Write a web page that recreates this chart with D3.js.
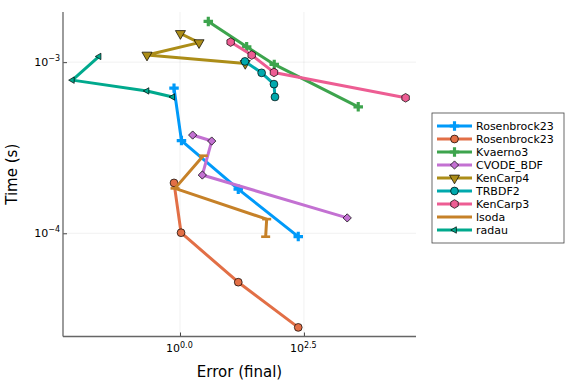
<!DOCTYPE html>
<html lang="en">

<head>
    <meta charset="UTF-8">
    <title>work precision</title>
    <script src="https://cdn.jsdelivr.net/npm/d3@7"></script>
    <style>
        body {
            margin: 0;
            background: #fff;
        }

        text {
            font-family: "DejaVu Sans", sans-serif;
            fill: #000;
        }

        .grid line {
            stroke: #000;
            stroke-opacity: 0.1;
            stroke-width: 0.6px;
        }

        .series path.line {
            fill: none;
            stroke-width: 3px;
            stroke-linejoin: round;
        }
    </style>
</head>

<body>
    <div id="chart"></div>
</body>

<script>
    // 各 solver 的誤差 / 時間
    const seriesNames = ["Rosenbrock23", "Rosenbrock23", "Kvaerno3", "CVODE_BDF", "KenCarp4", "TRBDF2", "KenCarp3", "lsoda", "radau"];
    const seriesColors = ["#009AF9", "#E26F46", "#3DA44D", "#C371D2", "#AC8D18", "#00A9AD", "#ED5D93", "#C68128", "#00A98D"];
    const seriesMarkers = ["cross", "circle", "cross", "diamond", "dtriangle", "circle", "hexagon", "hline", "ltriangle"];

    const rosenbrock23aErr = [0.757, 1.07, 14.96, 242.7];
    const rosenbrock23aTime = [7.05e-4, 3.48e-4, 1.81e-4, 9.57e-5];
    const rosenbrock23bErr = [0.757, 1.05, 14.96, 242.7];
    const rosenbrock23bTime = [1.97e-4, 1.008e-4, 5.18e-5, 2.82e-5];
    const kvaerno3Err = [3.72, 22.1, 79.6, 3935];
    const kvaerno3Time = [1.73e-3, 1.23e-3, 9.7e-4, 5.48e-4];
    const cvodeBdfErr = [1.80, 4.36, 2.82, 2360];
    const cvodeBdfTime = [3.75e-4, 3.46e-4, 2.19e-4, 1.23e-4];
    const kenCarp4Err = [1.02, 2.42, 0.216, 20.7];
    const kenCarp4Time = [1.47e-3, 1.30e-3, 1.10e-3, 9.83e-4];
    const trbdf2Err = [20.4, 44.3, 78.5, 82.3];
    const trbdf2Time = [1.01e-3, 8.66e-4, 7.44e-4, 6.26e-4];
    const kenCarp3Err = [10.5, 27.9, 78.5, 35500];
    const kenCarp3Time = [1.31e-3, 1.10e-3, 8.71e-4, 6.19e-4];
    const lsodaErr = [2.95, 0.793, 56.0, 53.4];
    const lsodaTime = [2.84e-4, 1.83e-4, 1.21e-4, 9.55e-5];
    const radauErr = [0.0233, 0.00674, 0.216, 0.713];
    const radauTime = [1.08e-3, 7.85e-4, 6.79e-4, 6.26e-4];

    const xTickValues = [1, Math.pow(10, 2.5)];
    const xTickExps = ["0.0", "2.5"];
    const yTickValues = [1e-3, 1e-4];
    const yTickExps = ["\u22123", "\u22124"];

    let draw = () => {
        let errs = [rosenbrock23aErr, rosenbrock23bErr, kvaerno3Err, cvodeBdfErr, kenCarp4Err, trbdf2Err, kenCarp3Err, lsodaErr, radauErr];
        let times = [rosenbrock23aTime, rosenbrock23bTime, kvaerno3Time, cvodeBdfTime, kenCarp4Time, trbdf2Time, kenCarp3Time, lsodaTime, radauTime];
        let series = seriesNames.map((name, i) => ({
            name: name,
            color: seriesColors[i],
            marker: seriesMarkers[i],
            pts: errs[i].map((e, j) => ({ err: e, time: times[i][j] }))
        }));

        let svg = d3.select("#chart").append("svg")
            .attr("class", "chart")
            .attr("width", 576)
            .attr("height", 384);

        let plot = { left: 63, right: 416, top: 12, bottom: 336.5 };

        let x = d3.scaleLog()
            .domain([Math.pow(10, -2.36), Math.pow(10, 4.76)])
            .range([plot.left, plot.right]);
        let y = d3.scaleLog()
            .domain([Math.pow(10, -4.603), Math.pow(10, -2.707)])
            .range([plot.bottom, plot.top]);

        // grid
        let grid = svg.append("g").attr("class", "grid");
        grid.selectAll(".gx").data(xTickValues).enter().append("line")
            .attr("x1", d => x(d)).attr("x2", d => x(d))
            .attr("y1", plot.top).attr("y2", plot.bottom);
        grid.selectAll(".gy").data(yTickValues).enter().append("line")
            .attr("y1", d => y(d)).attr("y2", d => y(d))
            .attr("x1", plot.left).attr("x2", plot.right);

        // axes (ticks inward)
        let xAxis = d3.axisTop(x).tickValues(xTickValues).tickSize(4).tickFormat("");
        let yAxis = d3.axisRight(y).tickValues(yTickValues).tickSize(4).tickFormat("");
        let gx = svg.append("g").attr("transform", "translate(0," + plot.bottom + ")").call(xAxis);
        let gy = svg.append("g").attr("transform", "translate(" + plot.left + ",0)").call(yAxis);
        [gx, gy].forEach(g => {
            g.select(".domain").remove();
            g.selectAll(".tick line").attr("stroke", "#444").attr("stroke-width", 1);
        });
        svg.append("line")
            .attr("x1", plot.left).attr("x2", plot.right)
            .attr("y1", plot.bottom).attr("y2", plot.bottom)
            .attr("stroke", "#666").attr("stroke-width", 1.3);
        svg.append("line")
            .attr("x1", plot.left).attr("x2", plot.left)
            .attr("y1", plot.top).attr("y2", plot.bottom)
            .attr("stroke", "#666").attr("stroke-width", 1.3);

        // tick labels 10^n
        xTickValues.forEach((v, i) => {
            let t = svg.append("text")
                .attr("x", x(v) - 14)
                .attr("y", plot.bottom + 15)
                .style("font-size", "11px");
            t.append("tspan").text("10");
            t.append("tspan").attr("dy", -4).style("font-size", "8px").text(xTickExps[i]);
        });
        yTickValues.forEach((v, i) => {
            let t = svg.append("text")
                .attr("x", plot.left - 3)
                .attr("y", y(v) + 4)
                .attr("text-anchor", "end")
                .style("font-size", "11px");
            t.append("tspan").text("10");
            t.append("tspan").attr("dy", -5).style("font-size", "8px").text(yTickExps[i]);
        });

        // axis labels
        svg.append("text")
            .attr("x", (plot.left + plot.right) / 2)
            .attr("y", 377)
            .attr("text-anchor", "middle")
            .style("font-size", "15px")
            .text("Error (final)");
        svg.append("text")
            .attr("transform", "translate(17," + ((plot.top + plot.bottom) / 2) + ") rotate(-90)")
            .attr("text-anchor", "middle")
            .style("font-size", "15px")
            .text("Time (s)");

        // marker drawing
        let hexPath = (r) => {
            let p = d3.path();
            for (let k = 0; k < 6; k++) {
                let a = Math.PI / 6 + k * Math.PI / 3;
                if (k === 0) p.moveTo(r * Math.cos(a), r * Math.sin(a));
                else p.lineTo(r * Math.cos(a), r * Math.sin(a));
            }
            p.closePath();
            return p.toString();
        };
        let addMarker = (g, type, color, cx, cy) => {
            let m;
            if (type === "cross") {
                m = g.append("path").attr("d", d3.symbol(d3.symbolCross, 50)())
                    .attr("fill", color);
            } else if (type === "circle") {
                m = g.append("circle").attr("r", 3.9)
                    .attr("fill", color).attr("stroke", "#000").attr("stroke-width", 0.7);
            } else if (type === "diamond") {
                m = g.append("path").attr("d", d3.symbol(d3.symbolSquare, 34)())
                    .attr("fill", color).attr("stroke", "#000").attr("stroke-width", 0.7);
            } else if (type === "dtriangle") {
                m = g.append("path").attr("d", d3.symbol(d3.symbolTriangle, 44)())
                    .attr("fill", color).attr("stroke", "#000").attr("stroke-width", 0.7);
            } else if (type === "hexagon") {
                m = g.append("path").attr("d", hexPath(4.3))
                    .attr("fill", color).attr("stroke", "#000").attr("stroke-width", 0.7);
            } else if (type === "ltriangle") {
                m = g.append("path").attr("d", d3.symbol(d3.symbolTriangle, 18)())
                    .attr("fill", color).attr("stroke", "#000").attr("stroke-width", 0.7);
            } else if (type === "hline") {
                m = g.append("rect").attr("x", -4.5).attr("y", -1.3).attr("width", 9).attr("height", 2.6)
                    .attr("fill", color);
            }
            let rot = type === "diamond" ? 45 : type === "dtriangle" ? 180 : type === "ltriangle" ? -90 : 0;
            m.attr("transform", "translate(" + cx + "," + cy + ")" + (rot ? " rotate(" + rot + ")" : ""));
        };

        // series
        let line = d3.line().x(d => x(d.err)).y(d => y(d.time));
        series.forEach(s => {
            let g = svg.append("g").attr("class", "series");
            g.append("path").attr("class", "line")
                .attr("d", line(s.pts))
                .attr("stroke", s.color);
            s.pts.forEach(d => addMarker(g, s.marker, s.color, x(d.err), y(d.time)));
        });

        // legend
        let legend = svg.append("g").attr("transform", "translate(432,113)");
        legend.append("rect")
            .attr("width", 132).attr("height", 130)
            .attr("fill", "#fff").attr("stroke", "#444").attr("stroke-width", 0.8);
        series.forEach((s, i) => {
            let ly = 13 + i * 13;
            legend.append("line")
                .attr("x1", 5).attr("x2", 40).attr("y1", ly).attr("y2", ly)
                .attr("stroke", s.color).attr("stroke-width", 3);
            if (s.marker !== "hline") addMarker(legend, s.marker, s.color, 22.5, ly);
            legend.append("text")
                .attr("x", 44).attr("y", ly + 4)
                .style("font-size", "11px")
                .text(s.name);
        });
    }

    draw();
</script>

</html>
